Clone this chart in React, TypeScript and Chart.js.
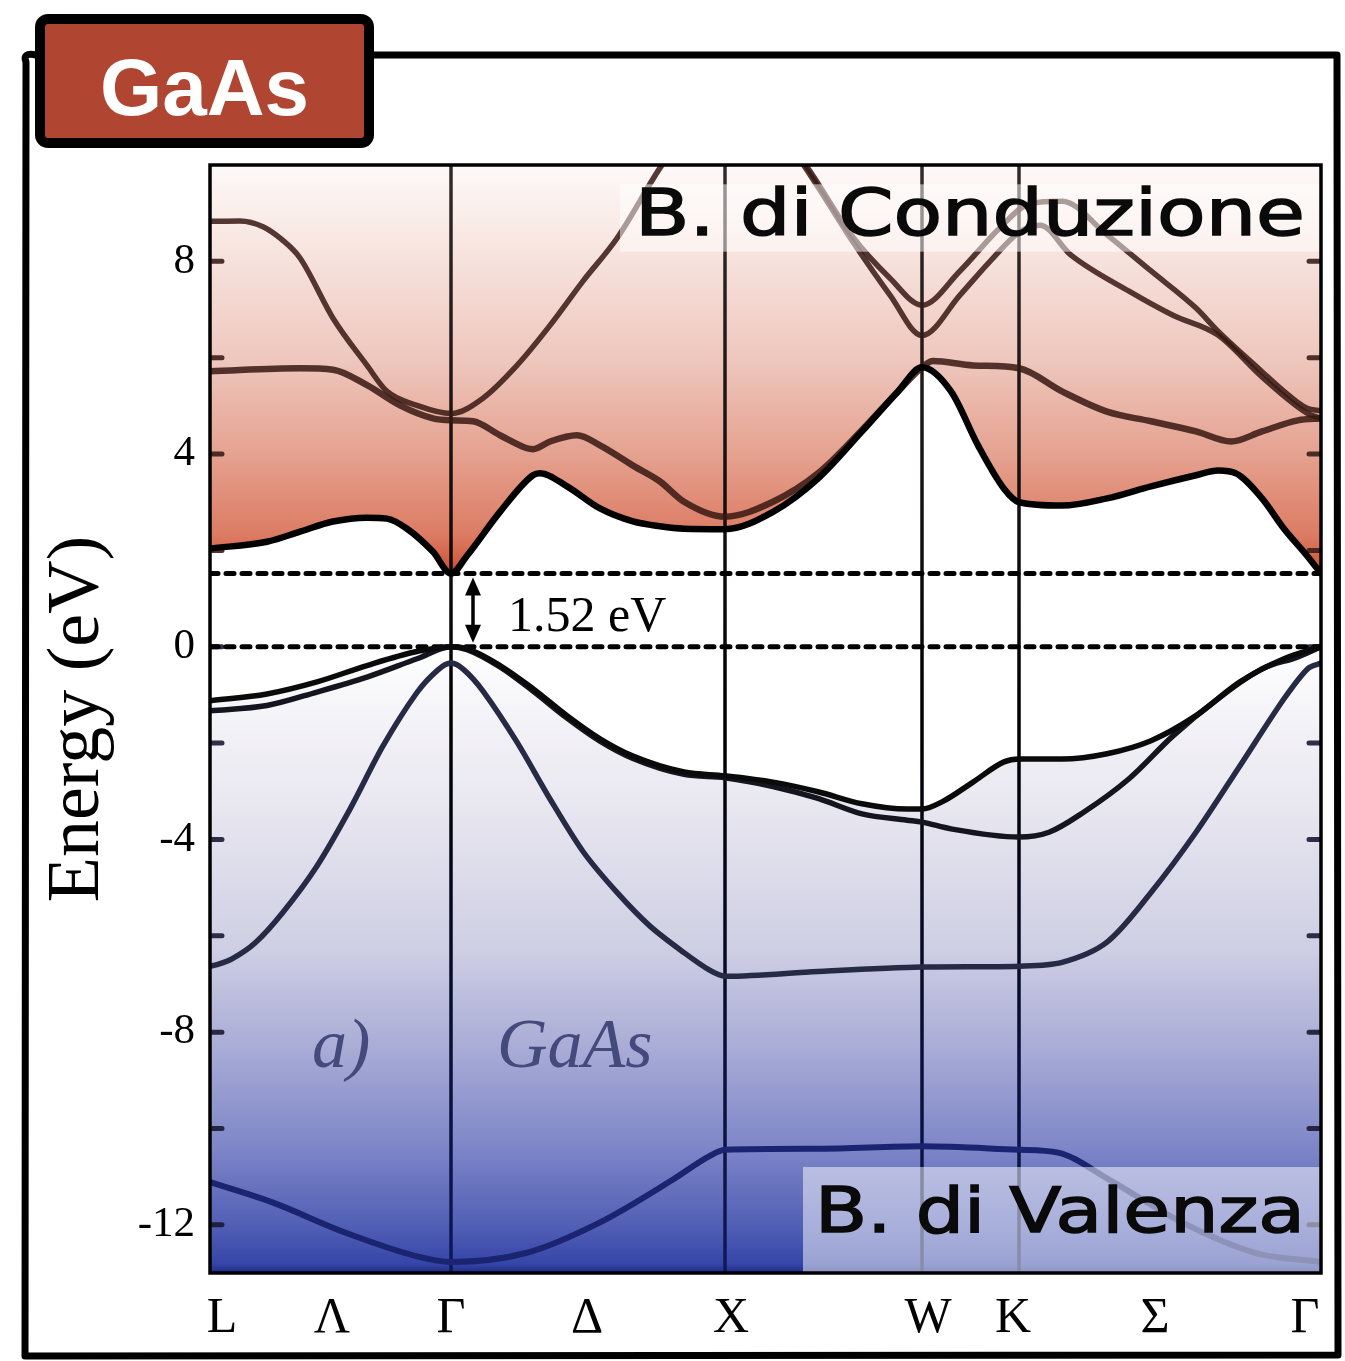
import React, { useEffect, useRef } from 'react';
import { Chart, registerables } from 'chart.js';

Chart.register(...registerables);

// ---- axes ----
const kMin = 0;
const kMax = 1111;
const eMin = -13;
const eMax = 10;
const symPointK = [241, 515, 712, 809]; // Γ X W K (interior vertical lines)
const kLabelNames = ['L', 'Λ', 'Γ', 'Δ', 'X', 'W', 'K', 'Σ', 'Γ'];
const kLabelPos = [12, 122, 241, 377, 521, 718, 803, 945, 1095];
const yTickLabels = [-12, -8, -4, 0, 4, 8];
const yMinorTicks = [-12, -10, -8, -6, -4, -2, 0, 2, 4, 6, 8];

// ---- band gap ----
const gapEnergy = 1.52;
const vbmEnergy = 0;

// ---- conduction bands ----
const cb1K = [0, 57, 90, 123, 157, 177, 197, 223, 241, 257, 290, 323, 330, 357, 390, 423, 450, 474, 515, 563, 608, 652, 688, 712, 741, 768, 794, 809, 852, 897, 941, 986, 1008, 1026, 1052, 1074, 1097, 1111];
const cb1E = [2.04, 2.18, 2.39, 2.6, 2.68, 2.66, 2.45, 1.97, 1.52, 1.89, 2.8, 3.56, 3.6, 3.33, 2.87, 2.6, 2.5, 2.45, 2.44, 2.8, 3.49, 4.47, 5.3, 5.8, 5.3, 4.18, 3.28, 3.0, 2.93, 3.08, 3.33, 3.56, 3.66, 3.6, 3.08, 2.45, 1.89, 1.52];

const cb2K = [0, 90, 123, 157, 190, 223, 241, 263, 290, 317, 323, 340, 367, 390, 423, 450, 474, 515, 563, 608, 652, 688, 712, 723, 763, 809, 852, 897, 941, 986, 1021, 1052, 1088, 1111];
const cb2E = [5.72, 5.78, 5.75, 5.43, 5.01, 4.74, 4.7, 4.68, 4.39, 4.12, 4.1, 4.26, 4.39, 4.18, 3.76, 3.43, 3.01, 2.7, 3.01, 3.6, 4.5, 5.3, 5.8, 5.93, 5.84, 5.78, 5.3, 4.88, 4.68, 4.47, 4.26, 4.47, 4.7, 4.74];

const cb3K = [0, 30, 53, 72, 90, 123, 157, 177, 207, 241, 273, 307, 340, 373, 407, 450, 480, 520, 560, 594, 643, 680, 712, 750, 790, 820, 852, 897, 941, 986, 1008, 1052, 1074, 1097, 1111];
const cb3E = [8.83, 8.84, 8.72, 8.45, 8.07, 6.82, 5.84, 5.3, 5.01, 4.84, 5.16, 5.84, 6.67, 7.59, 8.48, 9.94, 10.8, 11.5, 10.9, 10.05, 8.5, 7.65, 7.09, 7.8, 8.7, 9.2, 9.25, 8.55, 7.8, 7.03, 6.55, 5.71, 5.3, 4.95, 4.9];

const cb4K = [560, 600, 643, 680, 712, 750, 780, 809, 830, 861, 919, 963, 1008, 1052, 1097, 1111];
const cb4E = [11.0, 9.8, 8.4, 7.3, 6.46, 7.3, 8.0, 8.6, 8.75, 8.13, 7.38, 6.88, 6.47, 5.6, 4.85, 4.74];

// ---- valence bands ----
const vb1K = [0, 57, 107, 157, 207, 241, 257, 290, 323, 357, 390, 423, 474, 515, 563, 608, 652, 697, 712, 732, 763, 794, 809, 852, 897, 941, 986, 1030, 1074, 1111];
const vb1E = [-1.12, -0.98, -0.73, -0.39, -0.1, 0, -0.04, -0.39, -0.87, -1.43, -1.91, -2.27, -2.6, -2.68, -2.81, -3.01, -3.26, -3.37, -3.37, -3.22, -2.81, -2.39, -2.33, -2.33, -2.22, -1.95, -1.43, -0.73, -0.25, 0];

const vb2K = [0, 57, 107, 157, 207, 241, 257, 290, 323, 357, 390, 423, 474, 515, 563, 608, 652, 697, 712, 741, 809, 839, 874, 919, 963, 1008, 1052, 1088, 1111];
const vb2E = [-1.33, -1.22, -0.94, -0.63, -0.25, 0, -0.06, -0.42, -0.92, -1.48, -1.96, -2.32, -2.65, -2.72, -2.9, -3.15, -3.47, -3.6, -3.64, -3.78, -3.95, -3.85, -3.43, -2.74, -1.85, -1.08, -0.46, -0.21, 0];

const vb3K = [0, 7, 22, 45, 73, 107, 140, 173, 207, 228, 241, 254, 273, 307, 340, 373, 407, 440, 474, 500, 515, 608, 712, 809, 852, 897, 941, 986, 1030, 1074, 1098, 1111];
const vb3E = [-6.63, -6.6, -6.48, -6.15, -5.51, -4.55, -3.37, -2.06, -0.95, -0.48, -0.34, -0.48, -0.92, -1.98, -3.16, -4.25, -5.1, -5.8, -6.35, -6.72, -6.84, -6.74, -6.65, -6.63, -6.55, -6.13, -5.1, -3.85, -2.47, -1.08, -0.45, -0.34];

const vb4K = [1, 63, 135, 208, 241, 317, 390, 463, 499, 515, 608, 712, 808, 848, 899, 972, 1045, 1110];
const vb4E = [-11.12, -11.54, -12.16, -12.66, -12.77, -12.58, -11.95, -11.06, -10.58, -10.44, -10.42, -10.37, -10.44, -10.5, -11.06, -11.95, -12.58, -12.77];

// ---- texts ----
const titleText = 'GaAs';
const yAxisTitle = 'Energy (eV)';
const gapLabel = '1.52 eV';
const panelLabel = 'a)';
const materialLabel = 'GaAs';
const cbLabel = 'B. di Conduzione';
const vbLabel = 'B. di Valenza';

const zip = (k: number[], e: number[]) => k.map((x, i) => ({ x, y: e[i] }));

const SERIF = '"Liberation Serif", "DejaVu Serif", serif';

export default function App() {
  const canvasRef = useRef<HTMLCanvasElement | null>(null);

  useEffect(() => {
    const canvas = canvasRef.current;
    if (!canvas) return;

    const topGradient = (context: any) => {
      const chart = context.chart;
      const { ctx, chartArea, scales } = chart;
      if (!chartArea || !scales.y) return 'rgba(0,0,0,0)';
      const y0 = scales.y.getPixelForValue(eMax);
      const y1 = scales.y.getPixelForValue(1.45);
      const g = ctx.createLinearGradient(0, y0, 0, y1);
      g.addColorStop(0, '#fdf9f8');
      g.addColorStop(0.22, '#f7e3de');
      g.addColorStop(0.48, '#eec6bc');
      g.addColorStop(0.7, '#e5a290');
      g.addColorStop(0.9, '#dc7b63');
      g.addColorStop(0.97, '#cf5a3e');
      g.addColorStop(1, '#b83a1e');
      return g;
    };
    const bottomGradient = (context: any) => {
      const chart = context.chart;
      const { ctx, chartArea, scales } = chart;
      if (!chartArea || !scales.y) return 'rgba(0,0,0,0)';
      const y0 = scales.y.getPixelForValue(0);
      const y1 = scales.y.getPixelForValue(eMin);
      const g = ctx.createLinearGradient(0, y0, 0, y1);
      g.addColorStop(0, '#ffffff');
      g.addColorStop(0.1, '#f5f4f8');
      g.addColorStop(0.25, '#e9e7f0');
      g.addColorStop(0.48, '#cfcfe4');
      g.addColorStop(0.64, '#a9acd6');
      g.addColorStop(0.8, '#7e86c8');
      g.addColorStop(0.93, '#4f5db4');
      g.addColorStop(0.985, '#3646a8');
      g.addColorStop(1, '#1e2a8a');
      return g;
    };

    const cbColor = 'rgba(55,24,18,0.85)';
    const line = (label: string, k: number[], e: number[], color: string, width: number, extra: any = {}) => ({
      label,
      data: zip(k, e),
      borderColor: color,
      borderWidth: width,
      pointRadius: 0,
      cubicInterpolationMode: 'monotone',
      borderCapStyle: 'round',
      borderJoinStyle: 'round',
      fill: false,
      clip: 0,
      ...extra,
    });

    const decorPlugin = {
      id: 'decor',
      beforeDraw(chart: any) {
        const c = chart.ctx;
        c.save();
        c.fillStyle = '#ffffff';
        c.fillRect(0, 0, chart.width, chart.height);
        // outer hand-drawn frame
        c.strokeStyle = '#000';
        c.lineWidth = 7;
        c.lineJoin = 'round';
        c.lineCap = 'round';
        c.beginPath();
        c.moveTo(370, 55);
        c.lineTo(1337, 55);
        c.lineTo(1338, 1355);
        c.lineTo(25, 1356);
        c.lineTo(26, 62);
        c.quadraticCurveTo(22, 52, 36, 55);
        c.stroke();
        c.restore();
      },
      beforeDatasetsDraw(chart: any) {
        const c = chart.ctx;
        const { chartArea, scales } = chart;
        c.save();
        c.beginPath();
        c.rect(chartArea.left, chartArea.top, chartArea.right - chartArea.left, chartArea.bottom - chartArea.top);
        c.clip();
        // vertical symmetry-point lines
        symPointK.forEach((k) => {
          const x = scales.x.getPixelForValue(k);
          const gr = c.createLinearGradient(0, chartArea.top, 0, chartArea.bottom);
          gr.addColorStop(0, 'rgba(30,20,20,0.9)');
          gr.addColorStop(0.5, 'rgba(0,0,0,1)');
          gr.addColorStop(1, 'rgba(15,25,90,1)');
          c.strokeStyle = gr;
          c.lineWidth = 3.5;
          c.beginPath();
          c.moveTo(x, chartArea.top);
          c.lineTo(x, chartArea.bottom);
          c.stroke();
        });
        // inward y ticks, left and right
        c.lineCap = 'round';
        c.lineWidth = 5;
        yMinorTicks.forEach((v) => {
          const y = scales.y.getPixelForValue(v);
          c.strokeStyle = v > 1 ? 'rgba(60,30,25,0.9)' : 'rgba(25,25,50,0.9)';
          c.beginPath();
          c.moveTo(chartArea.left, y);
          c.lineTo(chartArea.left + 12, y);
          c.moveTo(chartArea.right, y);
          c.lineTo(chartArea.right - 12, y);
          c.stroke();
        });
        c.restore();
      },
      afterDatasetsDraw(chart: any) {
        const c = chart.ctx;
        const { chartArea, scales } = chart;
        const X = (k: number) => scales.x.getPixelForValue(k);
        const Y = (e: number) => scales.y.getPixelForValue(e);
        c.save();
        // semi-transparent label boxes
        c.fillStyle = 'rgba(255,255,255,0.5)';
        const cbTop = Y(9.6), cbBot = Y(8.2);
        c.fillRect(X(410), cbTop, chartArea.right - X(410) - 2, cbBot - cbTop);
        const vbTop = Y(-10.8);
        c.fillRect(X(593), vbTop, chartArea.right - X(593) - 1, chartArea.bottom - vbTop);

        // handwritten-like labels
        const drawFitted = (txt: string, left: number, right: number, baseline: number, size: number) => {
          c.font = `${size}px "DejaVu Sans", "Noto Sans", sans-serif`;
          const w = c.measureText(txt).width;
          c.save();
          c.translate(left, baseline);
          c.scale((right - left) / w, 1);
          c.fillStyle = '#0a0a0a';
          c.strokeStyle = '#0a0a0a';
          c.lineWidth = 1.5;
          c.textBaseline = 'alphabetic';
          c.textAlign = 'left';
          c.fillText(txt, 0, 0);
          c.strokeText(txt, 0, 0);
          c.restore();
        };
        drawFitted(cbLabel, X(425), X(1095), Y(8.55), 64);
        drawFitted(vbLabel, X(605), X(1095), Y(-12.15), 62);

        // frame around chart area
        c.strokeStyle = '#000';
        c.lineWidth = 3.5;
        c.strokeRect(chartArea.left, chartArea.top, chartArea.right - chartArea.left, chartArea.bottom - chartArea.top);

        // gap arrow
        const ax = X(263);
        const yA = Y(gapEnergy) + 4;
        const yB = Y(vbmEnergy) - 4;
        c.strokeStyle = '#000';
        c.fillStyle = '#000';
        c.lineWidth = 3.5;
        c.beginPath();
        c.moveTo(ax, yA + 12);
        c.lineTo(ax, yB - 12);
        c.stroke();
        c.beginPath();
        c.moveTo(ax, yA);
        c.lineTo(ax - 8, yA + 18);
        c.lineTo(ax + 8, yA + 18);
        c.closePath();
        c.fill();
        c.beginPath();
        c.moveTo(ax, yB);
        c.lineTo(ax - 8, yB - 18);
        c.lineTo(ax + 8, yB - 18);
        c.closePath();
        c.fill();

        c.font = `50px ${SERIF}`;
        c.textAlign = 'left';
        c.textBaseline = 'alphabetic';
        c.fillText(gapLabel, X(298), Y(0.33));

        c.fillStyle = '#454a7c';
        c.font = `italic 70px ${SERIF}`;
        c.fillText(panelLabel, X(102), Y(-8.73));
        c.fillText(materialLabel, X(287), Y(-8.73));
        c.restore();
      },
      afterDraw(chart: any) {
        const c = chart.ctx;
        c.save();
        // title box
        const x0 = 40, y0 = 19, x1 = 369, y1 = 143;
        c.lineJoin = 'round';
        c.fillStyle = '#b04532';
        c.strokeStyle = '#000';
        c.lineWidth = 10;
        c.beginPath();
        (c as any).roundRect(x0, y0, x1 - x0, y1 - y0, 8);
        c.fill();
        c.stroke();
        c.fillStyle = '#ffffff';
        c.font = 'bold 80px "Liberation Sans", Arial, sans-serif';
        c.textAlign = 'center';
        c.textBaseline = 'alphabetic';
        c.fillText(titleText, (x0 + x1) / 2, 115);
        c.restore();
      },
    };

    const chart = new Chart(canvas, {
      type: 'line',
      data: {
        datasets: [
          line('CB1', cb1K, cb1E, '#000000', 6.5, {
            fill: 'end',
            backgroundColor: topGradient,
          }),
          line('CB2', cb2K, cb2E, cbColor, 6.5),
          line('CB3', cb3K, cb3E, cbColor, 5.5),
          line('CB4', cb4K, cb4E, cbColor, 5.5),
          line('VB1', vb1K, vb1E, '#0a0a0a', 5.5, {
            fill: 'start',
            backgroundColor: bottomGradient,
          }),
          line('VB2', vb2K, vb2E, '#15151f', 5.5),
          line('VB3', vb3K, vb3E, '#272a45', 5.5, { cubicInterpolationMode: 'default', tension: 0.3 }),
          line('VB4', vb4K, vb4E, '#1a2470', 6),
          line('gap', [kMin, kMax], [gapEnergy, gapEnergy], '#000', 5, { borderDash: [8, 8], cubicInterpolationMode: 'default', tension: 0 }),
          line('vbm', [kMin, kMax], [vbmEnergy, vbmEnergy], '#000', 5, { borderDash: [8, 8], cubicInterpolationMode: 'default', tension: 0 }),
        ],
      },
      options: {
        animation: false,
        responsive: false,
        events: [],
        layout: { padding: { left: 0, top: 165, right: 24, bottom: 0 } },
        plugins: {
          legend: { display: false },
          tooltip: { enabled: false },
          filler: { drawTime: 'beforeDatasetsDraw' },
        },
        scales: {
          x: {
            type: 'linear',
            min: kMin,
            max: kMax,
            grid: { display: false, drawTicks: false },
            border: { display: false },
            afterFit: (s: any) => { s.height = 88; },
            afterBuildTicks: (s: any) => { s.ticks = kLabelPos.map((v) => ({ value: v })); },
            ticks: {
              autoSkip: false,
              maxRotation: 0,
              padding: 16,
              color: '#000',
              font: { family: SERIF, size: 50 },
              callback: (v: any) => {
                const i = kLabelPos.indexOf(Number(v));
                return i >= 0 ? kLabelNames[i] : '';
              },
            },
          },
          y: {
            type: 'linear',
            min: eMin,
            max: eMax,
            grid: { display: false, drawTicks: false },
            border: { display: false },
            afterFit: (s: any) => { s.width = 210; },
            afterBuildTicks: (s: any) => { s.ticks = yTickLabels.map((v) => ({ value: v })); },
            ticks: {
              autoSkip: false,
              padding: 15,
              color: '#000',
              font: { family: SERIF, size: 43 },
              callback: (v: any) => String(v),
            },
            title: {
              display: true,
              text: yAxisTitle,
              color: '#000',
              font: { family: SERIF, size: 74 },
              padding: { top: 34, bottom: 0 },
            },
          },
        },
      },
      plugins: [decorPlugin],
    } as any);

    return () => chart.destroy();
  }, []);

  return (
    <div style={{ position: 'absolute', left: 0, top: 0, width: 1345, height: 1361 }}>
      <canvas ref={canvasRef} width={1345} height={1361} style={{ display: 'block' }} />
    </div>
  );
}
